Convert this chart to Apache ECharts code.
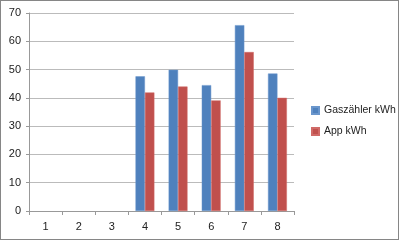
<!DOCTYPE html>
<html><head><meta charset="utf-8">
<script src="https://cdn.jsdelivr.net/npm/echarts@6/dist/echarts.min.js"></script>
<style>html,body{margin:0;padding:0;background:#fff}#c{width:399px;height:240px;box-sizing:border-box;border:1px solid #868686;}</style>
</head><body><div id="c"></div>
<script>
const categories = ['1','2','3','4','5','6','7','8'];
const gasValues = [null,null,null,47.6,49.9,44.5,65.7,48.6];
const appValues = [null,null,null,41.9,44.0,39.1,56.2,40.0];
const chart = echarts.init(document.getElementById('c'));
chart.setOption({
  animation:false,
  textStyle:{fontFamily:'Liberation Sans'},
  grid:{left:28,right:104,top:12,bottom:28,containLabel:false},
  legend:{orient:'vertical',left:310,top:104,padding:0,itemWidth:7,itemHeight:7,itemGap:10,icon:'rect',
    textStyle:{fontSize:10.5,color:'#222',fontFamily:'Liberation Sans'}},
  xAxis:{type:'category',data:categories,
    axisLine:{lineStyle:{color:'#999'}},
    axisTick:{show:true,length:4,lineStyle:{color:'#999'}},
    axisLabel:{fontSize:11,color:'#222',margin:10}},
  yAxis:{type:'value',min:0,max:70,interval:10,
    axisLine:{show:true,lineStyle:{color:'#999'}},
    axisTick:{show:true,length:3,lineStyle:{color:'#999'}},
    splitLine:{lineStyle:{color:'#bbb'}},
    axisLabel:{fontSize:11,color:'#222',margin:8}},
  series:[
    {name:'Gaszähler kWh',type:'bar',data:gasValues,barGap:'0%',barCategoryGap:'43%',
      itemStyle:{color:'#4F81BD',borderColor:'#6a96cc',borderWidth:0.5}},
    {name:'App kWh',type:'bar',data:appValues,barGap:'0%',barCategoryGap:'43%',
      itemStyle:{color:'#C0504D',borderColor:'#d06a67',borderWidth:0.5}}
  ]
});
</script></body></html>
